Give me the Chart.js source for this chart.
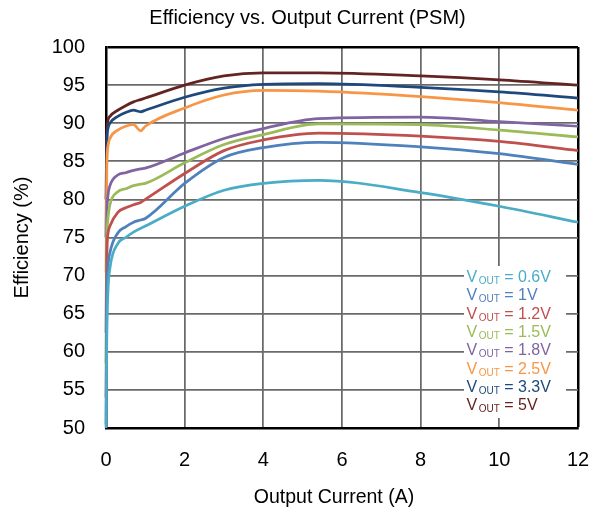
<!DOCTYPE html>
<html>
<head>
<meta charset="utf-8">
<script src="https://cdn.jsdelivr.net/npm/chart.js@4.4.1/dist/chart.umd.min.js"></script>
<style>
  html, body { margin: 0; padding: 0; background: #fff; }
  #chart { display: block; }
</style>
</head>
<body>
<canvas id="chart" width="601" height="518"></canvas>
<script>
// Output current (A), shared by every curve
const currents = [0.001, 0.02, 0.05, 0.1, 0.3, 0.5, 0.7, 0.88, 1, 2, 3, 4, 5.4, 8, 10, 12];

// Efficiency (%) per output voltage
const eff06 = [50.0, 62.0, 68.0, 71.0, 74.2, 75.0, 75.7, 76.2, 76.5, 79.1, 81.2, 82.1, 82.5, 80.9, 79.1, 77.0];
const eff10 = [50.5, 66.0, 71.0, 73.0, 75.6, 76.4, 77.0, 77.3, 77.5, 82.1, 85.5, 86.8, 87.5, 86.9, 86.0, 84.6];
const eff12 = [54.0, 72.0, 75.5, 76.5, 78.3, 78.9, 79.3, 79.6, 80.0, 83.4, 86.4, 87.8, 88.7, 88.3, 87.6, 86.4];
const eff15 = [58.5, 74.0, 77.5, 79.3, 81.0, 81.4, 81.8, 82.0, 82.1, 84.8, 87.2, 88.5, 89.9, 89.8, 89.1, 88.2];
const eff18 = [62.5, 77.0, 80.5, 81.8, 83.2, 83.5, 83.8, 84.0, 84.1, 86.1, 88.0, 89.3, 90.6, 90.8, 90.2, 89.6];
const eff25 = [70.4, 84.0, 87.0, 88.0, 89.1, 89.6, 89.8, 89.0, 89.6, 92.0, 93.7, 94.3, 94.2, 93.5, 92.7, 91.7];
const eff33 = [75.0, 87.0, 89.3, 90.0, 90.9, 91.4, 91.7, 91.5, 91.7, 93.4, 94.6, 95.1, 95.2, 94.7, 94.1, 93.3];
const eff50 = [80.0, 88.5, 90.4, 90.9, 91.7, 92.3, 92.8, 93.1, 93.3, 95.0, 96.2, 96.6, 96.6, 96.2, 95.7, 95.0];

const voutLabels = ['0.6V', '1V', '1.2V', '1.5V', '1.8V', '2.5V', '3.3V', '5V'];
const seriesValues = [eff06, eff10, eff12, eff15, eff18, eff25, eff33, eff50];
const seriesColors = ['#4BACC6', '#4F81BD', '#C0504D', '#9BBB59', '#8064A2', '#F79646', '#1F497D', '#632523'];

const xTicks = [0, 2, 4, 6, 8, 10, 12];
const yTicks = [50, 55, 60, 65, 70, 75, 80, 85, 90, 95, 100];

const FONT = 'Arial, "Liberation Sans", sans-serif';

// Titles in the reference sit a little off the library's default centre
const shiftTitles = {
    id: 'shiftTitles',
    afterLayout(chart) {
        if (chart.titleBlock) {
            chart.titleBlock.left = 14;
            chart.titleBlock.right = 601;
        }
    },
    beforeDraw(chart) {
        // nudge the x axis title left without moving the scale
        const x = chart.scales.x;
        x._titleShift = 8;
    }
};

// Legend drawn as plain text with a subscript "OUT"
const voutLegend = {
    id: 'voutLegend',
    afterDraw(chart) {
        const ctx = chart.ctx;
        ctx.save();
        ctx.fillStyle = '#fff';
        ctx.fillRect(464, 266, 102, 152);
        ctx.textBaseline = 'alphabetic';
        ctx.textAlign = 'left';
        voutLabels.forEach((label, i) => {
            const base = 282 + i * 18.3;
            let x = 466.5;
            ctx.fillStyle = seriesColors[i];
            ctx.font = '16px ' + FONT;
            ctx.fillText('V', x, base);
            x += ctx.measureText('V').width + 1.5;
            ctx.font = '10px ' + FONT;
            ctx.fillText('OUT', x, base + 2);
            x += ctx.measureText('OUT').width;
            ctx.font = '16px ' + FONT;
            ctx.fillText(' = ' + label, x, base);
        });
        ctx.restore();
    }
};

const datasets = seriesValues.map((vals, i) => ({
    label: 'VOUT = ' + voutLabels[i],
    data: currents.map((c, j) => ({ x: c, y: vals[j] })),
    borderColor: seriesColors[i],
    backgroundColor: seriesColors[i],
    borderWidth: 2.75,
    pointRadius: 0,
    cubicInterpolationMode: 'monotone',
    clip: 5
}));

new Chart(document.getElementById('chart'), {
    type: 'line',
    data: { datasets: datasets },
    options: {
        responsive: false,
        animation: false,
        layout: { padding: { left: 0, right: 23, top: 0, bottom: 0 } },
        plugins: {
            legend: { display: false },
            tooltip: { enabled: false },
            title: {
                display: true,
                text: 'Efficiency vs. Output Current (PSM)',
                color: '#000',
                font: { family: FONT, size: 20, weight: 'normal' },
                padding: { top: 6, bottom: 17 }
            }
        },
        scales: {
            x: {
                type: 'linear',
                min: 0,
                max: 12,
                afterBuildTicks: s => { s.ticks = xTicks.map(v => ({ value: v })); },
                afterFit: s => {
                    s.height = 90;
                    s.paddingLeft = 0;
                    s.paddingRight = 0;
                },
                ticks: { color: '#000', font: { family: FONT, size: 20 }, padding: 20 },
                grid: {
                    drawTicks: false,
                    color: c => (c.tick && c.tick.value === 12) ? '#000' : '#6a6a6a',
                    lineWidth: c => (c.tick && c.tick.value === 12) ? 2.5 : 1.75
                },
                border: { display: true, color: '#000', width: 2.5 },
                title: {
                    display: true,
                    text: 'Output Current (A)',
                    color: '#000',
                    font: { family: FONT, size: 19.5 },
                    padding: { top: 0, bottom: 9 }
                }
            },
            y: {
                min: 50,
                max: 100,
                afterBuildTicks: s => { s.ticks = yTicks.map(v => ({ value: v })); },
                afterFit: s => { s.width = 106; },
                ticks: { color: '#000', font: { family: FONT, size: 20 }, padding: 21 },
                grid: {
                    drawTicks: false,
                    color: c => (c.tick && c.tick.value === 100) ? '#000' : '#6a6a6a',
                    lineWidth: c => (c.tick && c.tick.value === 100) ? 2.5 : 1.75
                },
                border: { display: true, color: '#000', width: 2.5 },
                title: {
                    display: true,
                    text: 'Efficiency (%)',
                    color: '#000',
                    font: { family: FONT, size: 20 },
                    padding: { top: 10, bottom: 0 }
                }
            }
        }
    },
    plugins: [shiftTitles, voutLegend]
});

// draw the x axis title shifted: wrap the scale's drawTitle once
(function () {
    const chart = Chart.getChart('chart');
    const xScale = chart.scales.x;
    const orig = xScale.drawTitle.bind(xScale);
    xScale.drawTitle = function () {
        const ctx = this.ctx;
        ctx.save();
        ctx.translate(-(this._titleShift || 0), 0);
        orig();
        ctx.restore();
    };
    chart.draw();
})();
</script>
</body>
</html>
